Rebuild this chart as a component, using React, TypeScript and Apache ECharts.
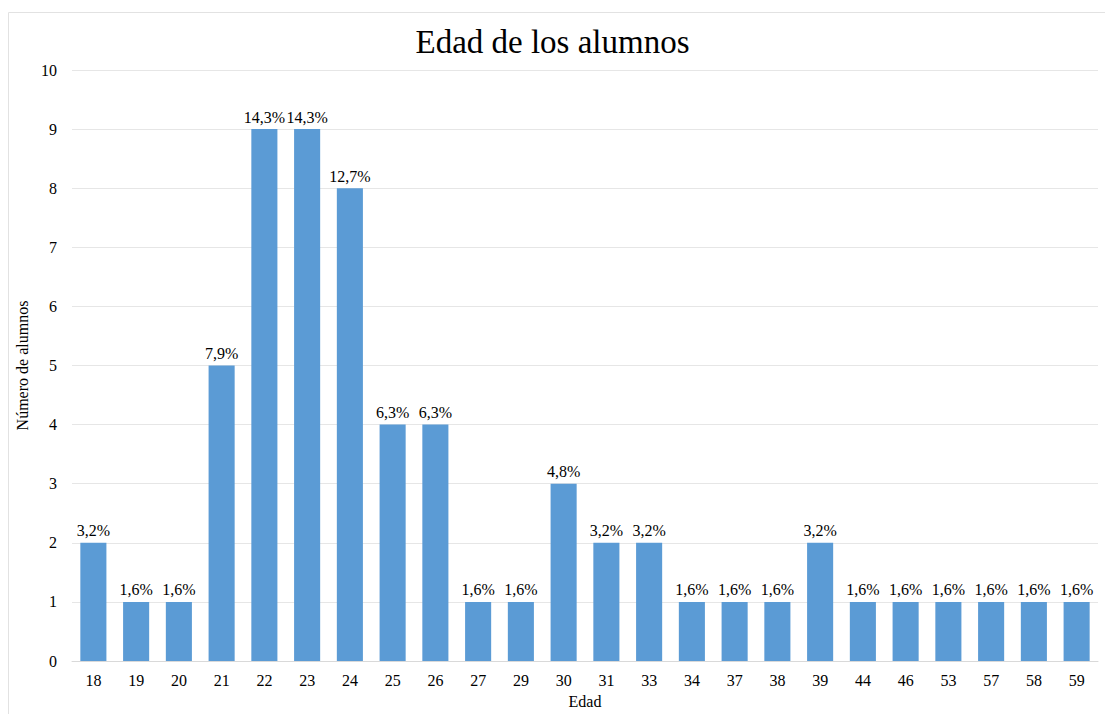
import React, { useEffect, useRef } from "react";
import * as echarts from "echarts";

const categories = ["18","19","20","21","22","23","24","25","26","27","29","30","31","33","34","37","38","39","44","46","53","57","58","59"];
const values = [2,1,1,5,9,9,8,4,4,1,1,3,2,2,1,1,1,2,1,1,1,1,1,1];
const yTicks = { min: 0, max: 10, interval: 1 };
const titleText = "Edad de los alumnos";
const xName = "Edad";
const yName = "Número de alumnos";

const FONT = "Liberation Serif";

export default function App() {
  const ref = useRef<HTMLDivElement>(null);
  useEffect(() => {
    if (!ref.current) return;
    const chart = echarts.init(ref.current, null, { renderer: "svg" });
    const total = values.reduce((a, b) => a + b, 0);
    chart.setOption({
      animation: false,
      backgroundColor: "#ffffff",
      textStyle: { fontFamily: FONT },
      title: {
        text: titleText,
        left: "center",
        top: 20,
        textStyle: { fontFamily: FONT, fontSize: 33, fontWeight: "normal", color: "#000" },
      },
      graphic: [
        {
          type: "rect",
          shape: { x: 8.5, y: 12.5, width: 1200, height: 800 },
          style: { fill: "none", stroke: "#e2e2e2", lineWidth: 1 },
          silent: true,
        },
      ],
      grid: { left: 72, right: 7, top: 70, bottom: 43, containLabel: false },
      xAxis: {
        type: "category",
        data: categories,
        name: xName,
        nameLocation: "middle",
        nameGap: 32,
        nameTextStyle: { fontFamily: FONT, fontSize: 16, color: "#000" },
        axisLine: { lineStyle: { color: "#d9d9d9" } },
        axisTick: { show: false },
        axisLabel: { fontFamily: FONT, fontSize: 16, color: "#000", margin: 11 },
      },
      yAxis: {
        type: "value",
        min: yTicks.min,
        max: yTicks.max,
        interval: yTicks.interval,
        name: yName,
        nameLocation: "middle",
        nameGap: 27,
        nameTextStyle: { fontFamily: FONT, fontSize: 16, color: "#000" },
        axisLine: { show: false },
        axisTick: { show: false },
        axisLabel: { fontFamily: FONT, fontSize: 16, color: "#000", margin: 15 },
        splitLine: { lineStyle: { color: "#e6e6e6" } },
      },
      series: [
        {
          type: "bar",
          data: values,
          barWidth: "61%",
          itemStyle: { color: "#5B9BD5" },
          label: {
            show: true,
            position: "top",
            distance: 4,
            fontFamily: FONT,
            fontSize: 16,
            color: "#000",
            formatter: (p: any) => ((p.value / total) * 100).toFixed(1).replace(".", ",") + "%",
          },
        },
      ],
    });
    return () => chart.dispose();
  }, []);
  return (
    <div
      ref={ref}
      style={{ position: "fixed", left: 0, top: 0, width: 1105, height: 714 }}
    />
  );
}
